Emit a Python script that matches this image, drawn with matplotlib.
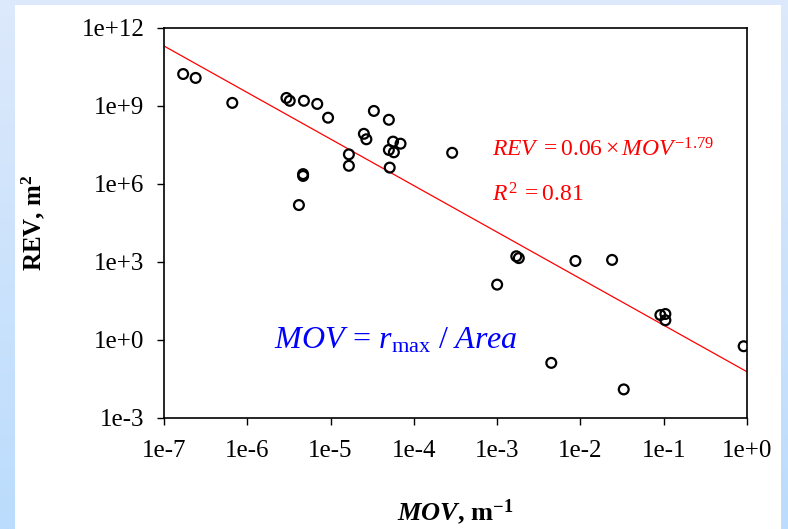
import numpy as np
import matplotlib
matplotlib.use("Agg")
import matplotlib.pyplot as plt
from matplotlib.ticker import FixedLocator, NullLocator

plt.rcParams['font.family'] = ['Liberation Serif', 'DejaVu Serif']
plt.rcParams['mathtext.fontset'] = 'custom'
plt.rcParams['mathtext.rm'] = 'Liberation Serif'
plt.rcParams['mathtext.it'] = 'Liberation Serif:italic'
plt.rcParams['mathtext.bf'] = 'Liberation Serif:bold'
plt.rcParams['mathtext.bfit'] = 'Liberation Serif:italic:bold'

# data, log10 values
log_mov = [-6.77, -6.62, -6.18, -5.53, -5.49, -5.32, -5.16, -5.03, -4.48, -4.30,
           -4.60, -4.57, -4.25, -4.16, -4.30, -4.24, -4.78, -4.78, -4.29, -3.54,
           -5.33, -5.33, -5.38, -2.77, -2.74, -3.00, -2.06, -1.62, -1.04, -0.98,
           -0.98, -0.04, -2.35, -1.48]
log_rev = [10.23, 10.08, 9.12, 9.31, 9.20, 9.20, 9.08, 8.55, 8.81, 8.47,
           7.93, 7.72, 7.63, 7.55, 7.31, 7.22, 7.14, 6.70, 6.63, 7.20,
           6.38, 6.31, 5.19, 3.22, 3.15, 2.13, 3.04, 3.08, 0.96, 1.00,
           0.76, -0.24, -0.88, -1.90]

fit_a = 0.06
fit_b = -1.79
r2 = 0.81

xticks = [1e-7, 1e-6, 1e-5, 1e-4, 1e-3, 1e-2, 1e-1, 1e0]
xlabels = ['1e-7', '1e-6', '1e-5', '1e-4', '1e-3', '1e-2', '1e-1', '1e+0']
yticks = [1e-3, 1e0, 1e3, 1e6, 1e9, 1e12]
ylabels = ['1e-3', '1e+0', '1e+3', '1e+6', '1e+9', '1e+12']

W, H = 788, 529
fig = plt.figure(figsize=(W / 100, H / 100), dpi=100)

# light blue gradient behind a white panel
bg = fig.add_axes([0, 0, 1, 1], zorder=-10)
grad = np.linspace(0, 1, 256).reshape(-1, 1)
cmap = matplotlib.colors.LinearSegmentedColormap.from_list('bg', ['#dde9fb', '#bbdcfd'])
bg.imshow(grad, aspect='auto', cmap=cmap, extent=[0, 1, 0, 1], origin='upper')
bg.add_patch(plt.Rectangle((15 / W, 0), (781 - 15) / W, (H - 5) / H,
                           facecolor='white', edgecolor='none'))
bg.set_xlim(0, 1)
bg.set_ylim(0, 1)
bg.axis('off')

ax = fig.add_axes([164 / W, 1 - 418 / H, (747 - 164) / W, (418 - 28) / H])
ax.set_facecolor('none')
ax.set_xscale('log')
ax.set_yscale('log')
ax.set_xlim(1e-7, 1e0)
ax.set_ylim(1e-3, 1e12)

mov = 10 ** np.array(log_mov)
rev = 10 ** np.array(log_rev)
ax.scatter(mov, rev, s=50, facecolors='none', edgecolors='black', linewidths=1.6, zorder=3)

xf = np.array([1e-7, 1e0])
ax.plot(xf, fit_a * xf ** fit_b, color='red', lw=0.9, zorder=2)

ax.xaxis.set_major_locator(FixedLocator(xticks))
ax.yaxis.set_major_locator(FixedLocator(yticks))
ax.xaxis.set_minor_locator(NullLocator())
ax.yaxis.set_minor_locator(NullLocator())
ax.set_xticklabels(xlabels)
ax.set_yticklabels(ylabels)
ax.tick_params(axis='both', labelsize=18, length=5, width=1, direction='out')
ax.tick_params(axis='x', pad=11)
ax.tick_params(axis='y', pad=9)
for sp in ax.spines.values():
    sp.set_linewidth(1.2)

ax.set_xlabel(r'$\mathbfit{MOV}$, m$^{\mathbf{-1}}$', fontsize=19,
              fontweight='bold', labelpad=25)
ax.set_ylabel(r'REV, m$^{\mathbf{2}}$', fontsize=18, fontweight='bold', labelpad=25)

ax.text(0.563, 0.67, r'$REV\;=0.06\times MOV^{-1.79}$', transform=ax.transAxes,
        color='red', fontsize=17)
ax.text(0.563, 0.555, r'$R^{2}\;=0.81$', transform=ax.transAxes, color='red', fontsize=17)
ax.text(0.188, 0.177, r'$MOV\,=\,r_{\rm max}\ /\ Area$', transform=ax.transAxes,
        color='blue', fontsize=23)

fig.savefig('out.png', dpi=100)
